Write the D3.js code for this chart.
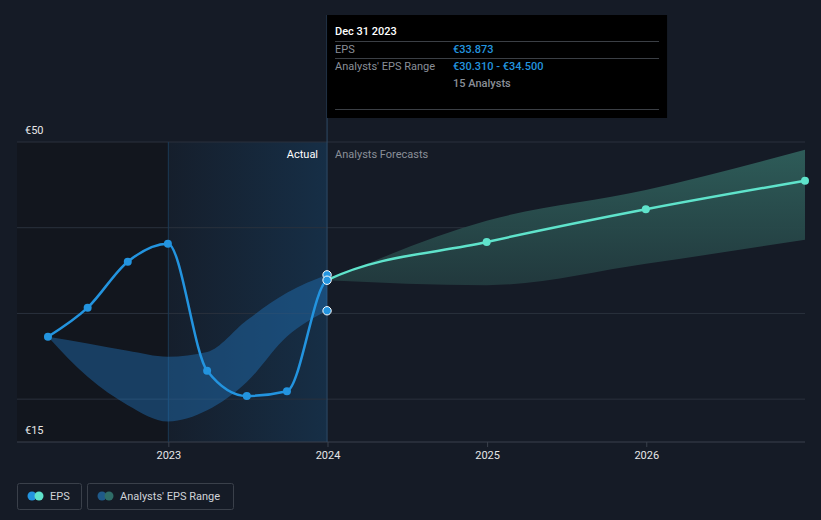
<!DOCTYPE html>
<html><head><meta charset="utf-8">
<script src="https://cdn.jsdelivr.net/npm/d3@7"></script>
<style>
html,body{margin:0;padding:0;background:#151b26;}
svg{display:block;font-family:Roboto,"Open Sans",sans-serif;}
</style></head><body>
<svg id="c" width="821" height="520"></svg>
<script>
// ---- data ----
const yTicks = [15, 20, 30, 40, 50];
const yTickLabels = ["€15", "", "", "", "€50"];
const xTickYears = [2023, 2024, 2025, 2026];
const actualDates = ["2022-03-31","2022-06-30","2022-09-30","2022-12-31","2023-03-31","2023-06-30","2023-09-30","2023-12-31"];
const actualEps = [27.28, 30.67, 36.04, 38.14, 23.32, 20.37, 20.92, 33.873];
const pastRangeDates = ["2022-03-31","2022-06-30","2022-09-30","2022-12-31","2023-03-31","2023-06-30","2023-09-30","2023-12-31"];
const pastRangeLow = [27.28, 22.6, 19.3, 17.4, 18.7, 22.0, 27.3, 30.31];
const pastRangeHigh = [27.28, 26.5, 25.65, 24.95, 25.5, 29.2, 32.4, 34.5];
const forecastDates = ["2023-12-31","2024-12-31","2025-12-31","2026-12-31"];
const forecastEps = [33.873, 38.33, 42.15, 45.49];
const forecastLow = [33.873, 33.3, 35.8, 38.6];
const forecastHigh = [33.873, 40.8, 44.4, 49.1];
const markerDate = "2023-12-31";
const markerValues = [34.5, 33.873, 30.31];
const legendLabels = ["EPS", "Analysts' EPS Range"];

const parse = d3.timeParse("%Y-%m-%d");
const svg = d3.select("#c");
const W = 821, L = 17, R = 805, T = 142, B = 442;

const x = d3.scaleTime()
  .domain([parse("2022-01-19"), parse("2026-12-31")])
  .range([L, R]);
const y = d3.scaleLinear().domain([15, 50]).range([B, T]);

const xNow = x(parse(markerDate));
const x2023 = x(new Date(2023,0,1));

const defs = svg.append("defs");
const g1 = defs.append("linearGradient").attr("id","hl").attr("x1","0").attr("x2","1").attr("y1","0").attr("y2","0");
g1.append("stop").attr("offset","0").attr("stop-color","#1a73b8").attr("stop-opacity",0.04);
g1.append("stop").attr("offset","1").attr("stop-color","#1a73b8").attr("stop-opacity",0.22);
const g2 = defs.append("linearGradient").attr("id","fc").attr("x1","0").attr("x2","0").attr("y1","0").attr("y2","1");
g2.append("stop").attr("offset","0").attr("stop-color","#2f5f5b");
g2.append("stop").attr("offset","1").attr("stop-color","#223a3e");
defs.append("clipPath").attr("id","cpPast").append("rect").attr("x",0).attr("y",0).attr("width",xNow).attr("height",520);
defs.append("clipPath").attr("id","cpFut").append("rect").attr("x",xNow).attr("y",0).attr("width",W-xNow).attr("height",520);

// past dark area
svg.append("rect").attr("x",L).attr("y",T).attr("width",x2023-L).attr("height",B-T).attr("fill","#12161e");
svg.append("rect").attr("x",x2023).attr("y",T).attr("width",xNow-x2023).attr("height",B-T).attr("fill","url(#hl)");

// grid
svg.append("g").selectAll("line").data(yTicks.slice(1)).join("line")
  .attr("x1",L).attr("x2",R).attr("y1",d=>y(d)).attr("y2",d=>y(d))
  .attr("stroke","#2a313d").attr("stroke-width",1);
svg.append("line").attr("x1",L).attr("x2",R).attr("y1",B).attr("y2",B).attr("stroke","#3a414c");

// y labels
svg.append("g").selectAll("text").data(yTicks.filter((d,i)=>yTickLabels[i])).join("text")
  .attr("x",25).attr("y",d=>y(d)-8).attr("fill","#e6e6e6").attr("font-size",11)
  .text(d=>yTickLabels[yTicks.indexOf(d)]);

// x axis
const xAxis = d3.axisBottom(x).tickValues(xTickYears.map(yr=>new Date(yr,0,1))).tickFormat(d3.timeFormat("%Y")).tickSize(5).tickPadding(4);
const ax = svg.append("g").attr("transform",`translate(0,${B})`).call(xAxis);
ax.select(".domain").remove();
ax.selectAll(".tick line").attr("stroke","#3a414c");
ax.selectAll(".tick text").attr("fill","#e6e6e6").attr("font-size",11).attr("font-family","Roboto,sans-serif");

// vertical lines
svg.append("line").attr("x1",x2023).attr("x2",x2023).attr("y1",T).attr("y2",B).attr("stroke","#1c3a55").attr("stroke-width",1);
svg.append("line").attr("x1",xNow).attr("x2",xNow).attr("y1",15).attr("y2",B).attr("stroke","#2e4b66").attr("stroke-width",1);

// past range
const pastR = pastRangeDates.map((d,i)=>({d:parse(d),lo:pastRangeLow[i],hi:pastRangeHigh[i]}));
svg.append("path").datum(pastR)
  .attr("d", d3.area().x(d=>x(d.d)).y0(d=>y(d.lo)).y1(d=>y(d.hi)).curve(d3.curveMonotoneX))
  .attr("fill","#2178c0").attr("fill-opacity",0.42);

// forecast range
const fR = forecastDates.map((d,i)=>({d:parse(d),lo:forecastLow[i],hi:forecastHigh[i],v:forecastEps[i]}));
svg.append("path").datum(fR)
  .attr("d", d3.area().x(d=>x(d.d)).y0(d=>y(d.lo)).y1(d=>y(d.hi)).curve(d3.curveMonotoneX))
  .attr("fill","url(#fc)").attr("fill-opacity",0.95);

// labels
svg.append("text").attr("x",xNow-9).attr("y",158).attr("text-anchor","end").attr("fill","#ffffff").attr("font-size",11).text("Actual");
svg.append("text").attr("x",xNow+8).attr("y",158).attr("fill","#8a8f98").attr("font-size",11).text("Analysts Forecasts");

// EPS line: actual + forecast drawn as one continuous series, coloured by side of "now"
const act = actualDates.map((d,i)=>({d:parse(d),v:actualEps[i]}));
const full = act.concat(fR.slice(1).map(d=>({d:d.d,v:d.v})));
const lineGen = d3.line().x(d=>x(d.d)).y(d=>y(d.v)).curve(d3.curveMonotoneX);
svg.append("path").datum(full).attr("d",lineGen).attr("clip-path","url(#cpPast)")
  .attr("fill","none").attr("stroke","#2394df").attr("stroke-width",2.5);
svg.append("path").datum(full).attr("d",lineGen).attr("clip-path","url(#cpFut)")
  .attr("fill","none").attr("stroke","#5fe3cb").attr("stroke-width",2.5);
svg.append("g").selectAll("circle").data(act.slice(0,-1)).join("circle")
  .attr("cx",d=>x(d.d)).attr("cy",d=>y(d.v)).attr("r",4).attr("fill","#2394df");
svg.append("g").selectAll("circle").data(fR.slice(1)).join("circle")
  .attr("cx",d=>x(d.d)).attr("cy",d=>y(d.v)).attr("r",4).attr("fill","#5fe3cb");

// marker circles
svg.append("g").selectAll("circle").data(markerValues).join("circle")
  .attr("cx",xNow).attr("cy",d=>y(d)).attr("r",4.2).attr("fill","#2394df").attr("stroke","#ffffff").attr("stroke-width",1);

// tooltip
const tt = svg.append("g");
tt.append("rect").attr("x",xNow).attr("y",15).attr("width",340).attr("height",103).attr("fill","#000000");
const tx = xNow+8, tv = xNow+126;
tt.append("text").attr("x",tx).attr("y",35).attr("fill","#ffffff").attr("font-size",11).attr("font-weight",500).text("Dec 31 2023");
[41,58,109].forEach(yy=>tt.append("line").attr("x1",tx).attr("x2",xNow+332).attr("y1",yy+0.5).attr("y2",yy+0.5).attr("stroke","#3b3f45"));
tt.append("text").attr("x",tx).attr("y",53).attr("fill","#8a8f98").attr("font-size",11).text("EPS");
tt.append("text").attr("x",tv).attr("y",53).attr("fill","#2394df").attr("font-size",11).attr("font-weight",500).text("€" + actualEps[actualEps.length-1].toFixed(3));
tt.append("text").attr("x",tx).attr("y",70).attr("fill","#8a8f98").attr("font-size",11).text("Analysts' EPS Range");
tt.append("text").attr("x",tv).attr("y",70).attr("fill","#2394df").attr("font-size",11).attr("font-weight",500)
  .text("€" + pastRangeLow[pastRangeLow.length-1].toFixed(3) + " - €" + pastRangeHigh[pastRangeHigh.length-1].toFixed(3));
tt.append("text").attr("x",tv).attr("y",87).attr("fill","#8a8f98").attr("font-size",11).attr("font-weight",500).text("15 Analysts");

// legend
const lg = svg.append("g");
const items = [{x:17,w:64,c1:"#2394df",c2:"#5fe3cb"},{x:87,w:146,c1:"#1f5a8a",c2:"#2f6d68"}];
items.forEach((it,i)=>{
  lg.append("rect").attr("x",it.x+0.5).attr("y",483.5).attr("width",it.w).attr("height",26).attr("rx",2)
    .attr("fill","none").attr("stroke","#3a404a");
  lg.append("circle").attr("cx",it.x+15).attr("cy",496).attr("r",4.5).attr("fill",it.c1);
  lg.append("circle").attr("cx",it.x+22).attr("cy",496).attr("r",4.5).attr("fill",it.c2);
  lg.append("text").attr("x",it.x+33).attr("y",500).attr("fill","#d0d3d8").attr("font-size",11).text(legendLabels[i]);
});
</script>
</body></html>
